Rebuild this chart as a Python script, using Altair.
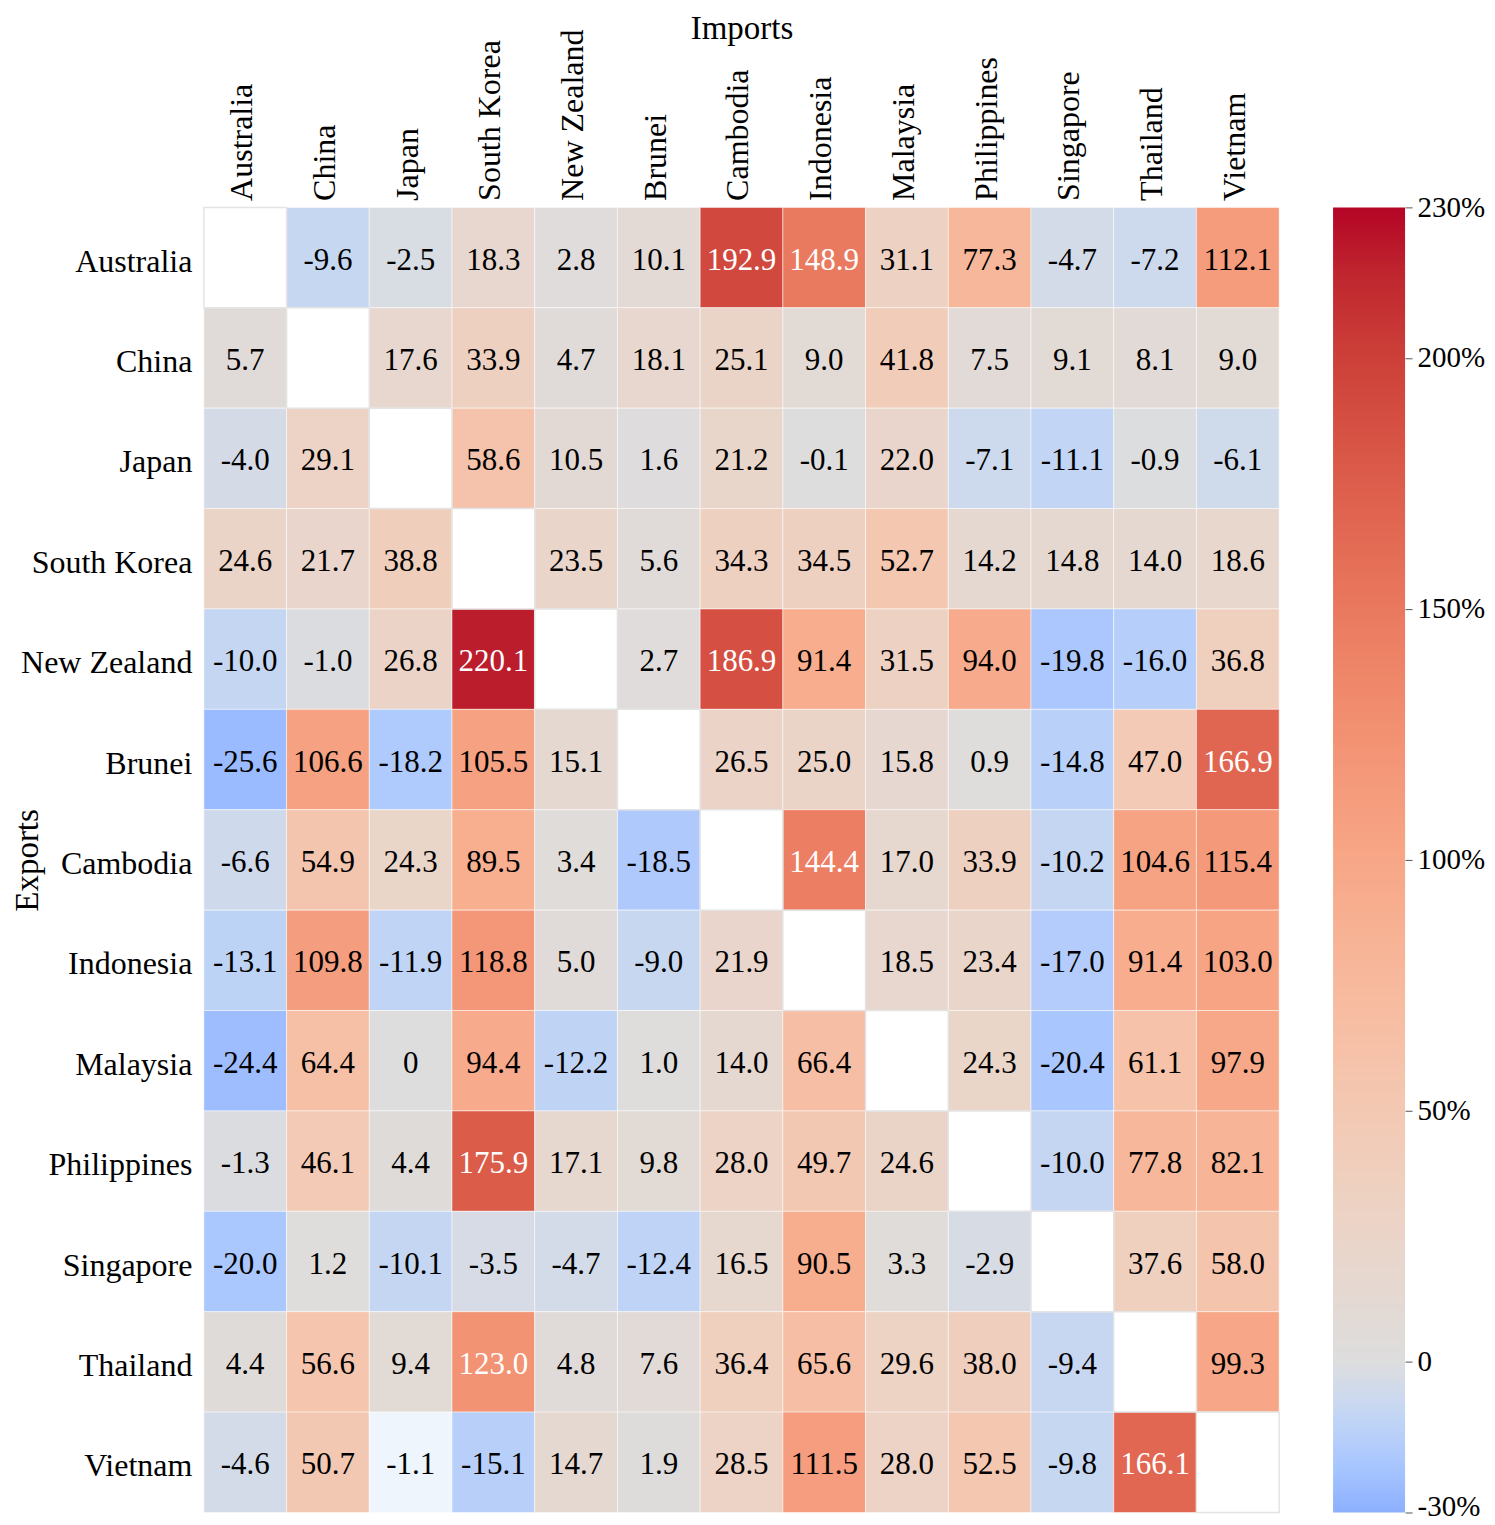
import altair as alt
import pandas as pd

countries = ["Australia", "China", "Japan", "South Korea", "New Zealand", "Brunei",
             "Cambodia", "Indonesia", "Malaysia", "Philippines", "Singapore",
             "Thailand", "Vietnam"]

# rows = exporting country, columns = importing country (same order as `countries`)
exp_australia   = [None, -9.6, -2.5, 18.3, 2.8, 10.1, 192.9, 148.9, 31.1, 77.3, -4.7, -7.2, 112.1]
exp_china       = [5.7, None, 17.6, 33.9, 4.7, 18.1, 25.1, 9.0, 41.8, 7.5, 9.1, 8.1, 9.0]
exp_japan       = [-4.0, 29.1, None, 58.6, 10.5, 1.6, 21.2, -0.1, 22.0, -7.1, -11.1, -0.9, -6.1]
exp_south_korea = [24.6, 21.7, 38.8, None, 23.5, 5.6, 34.3, 34.5, 52.7, 14.2, 14.8, 14.0, 18.6]
exp_new_zealand = [-10.0, -1.0, 26.8, 220.1, None, 2.7, 186.9, 91.4, 31.5, 94.0, -19.8, -16.0, 36.8]
exp_brunei      = [-25.6, 106.6, -18.2, 105.5, 15.1, None, 26.5, 25.0, 15.8, 0.9, -14.8, 47.0, 166.9]
exp_cambodia    = [-6.6, 54.9, 24.3, 89.5, 3.4, -18.5, None, 144.4, 17.0, 33.9, -10.2, 104.6, 115.4]
exp_indonesia   = [-13.1, 109.8, -11.9, 118.8, 5.0, -9.0, 21.9, None, 18.5, 23.4, -17.0, 91.4, 103.0]
exp_malaysia    = [-24.4, 64.4, 0, 94.4, -12.2, 1.0, 14.0, 66.4, None, 24.3, -20.4, 61.1, 97.9]
exp_philippines = [-1.3, 46.1, 4.4, 175.9, 17.1, 9.8, 28.0, 49.7, 24.6, None, -10.0, 77.8, 82.1]
exp_singapore   = [-20.0, 1.2, -10.1, -3.5, -4.7, -12.4, 16.5, 90.5, 3.3, -2.9, None, 37.6, 58.0]
exp_thailand    = [4.4, 56.6, 9.4, 123.0, 4.8, 7.6, 36.4, 65.6, 29.6, 38.0, -9.4, None, 99.3]
exp_vietnam     = [-4.6, 50.7, -1.1, -15.1, 14.7, 1.9, 28.5, 111.5, 28.0, 52.5, -9.8, 166.1, None]

rows = [exp_australia, exp_china, exp_japan, exp_south_korea, exp_new_zealand,
        exp_brunei, exp_cambodia, exp_indonesia, exp_malaysia, exp_philippines,
        exp_singapore, exp_thailand, exp_vietnam]

colorbar_ticks = [-30, 0, 50, 100, 150, 200, 230]

records = []
for i, exp in enumerate(countries):
    for j, imp in enumerate(countries):
        v = rows[i][j]
        if v is None:
            lab = ""
        elif isinstance(v, int):
            lab = str(v)
        else:
            lab = f"{v:.1f}"
        records.append({"Exports": exp, "Imports": imp, "value": v, "label": lab})
df = pd.DataFrame(records)

# coolwarm colour stops (t in [0.25, 1]) with a two-slope norm centred on 0
CMAP_T = [i / 32 for i in range(8, 33)]
CMAP_RGB = [
    (141, 176, 254), (152, 185, 255), (163, 194, 255), (174, 201, 253),
    (184, 208, 249), (194, 213, 244), (204, 217, 238), (213, 219, 230),
    (221, 221, 221), (229, 216, 209), (236, 211, 197), (241, 204, 184),
    (245, 196, 172), (247, 187, 159), (247, 177, 147), (247, 166, 134),
    (244, 154, 123), (241, 141, 111), (236, 127, 99), (229, 112, 88),
    (222, 96, 77), (213, 80, 66), (203, 62, 56), (192, 40, 47), (180, 4, 38),
]
NORM_VMIN, NORM_VMAX = -60, 230
scale_domain = [(t - 0.5) * 2 * (-NORM_VMIN) if t < 0.5 else (t - 0.5) * 2 * NORM_VMAX
                for t in CMAP_T]
scale_range = ["#%02x%02x%02x" % c for c in CMAP_RGB]
color_scale = alt.Scale(domain=scale_domain, range=scale_range,
                        interpolate="rgb", clamp=True)

FONT = "Liberation Serif"
PLOT_H = 1306

base = alt.Chart(df).encode(
    x=alt.X("Imports:N", sort=countries,
            axis=alt.Axis(orient="top", title="Imports", labelAngle=-90,
                          labelAlign="left", labelBaseline="middle",
                          labelPadding=7, labelOffset=-3, ticks=False,
                          tickSize=0, domain=False,
                          labelFontSize=32, titleFontSize=33,
                          titleFontWeight="normal", titlePadding=-16,
                          labelColor="black", titleColor="black")),
    y=alt.Y("Exports:N", sort=countries,
            axis=alt.Axis(title="Exports", labelPadding=12, labelOffset=4,
                          ticks=False, tickSize=0, domain=False,
                          labelFontSize=32, titleFontSize=33,
                          titleFontWeight="normal", titlePadding=-24,
                          labelColor="black", titleColor="black")),
)

cells = base.transform_filter("isValid(datum.value)").mark_rect(
    stroke="white", strokeWidth=1, strokeOpacity=0.5
).encode(
    color=alt.condition(
        "datum.Exports == 'Vietnam' && datum.Imports == 'Japan'",
        alt.value("#eef5fd"),
        alt.Color("value:Q", scale=color_scale, legend=None),
    )
)

diag = base.transform_filter("datum.Exports == datum.Imports").mark_rect(
    fill="white", stroke="#e4e4e4", strokeWidth=1.5
)

texts = base.transform_filter("isValid(datum.value)").mark_text(
    fontSize=31, font=FONT, baseline="middle", align="center", dy=3
).encode(
    text="label:N",
    color=alt.condition("datum.value > 120", alt.value("white"), alt.value("black")),
)

heat = alt.layer(cells, diag, texts).properties(width=1076, height=PLOT_H)

colorbar = alt.Chart(alt.sequence(-30, 230, 0.5, as_="v")).transform_calculate(
    v2="min(datum.v + 0.7, 230)"
).mark_rect(strokeWidth=0).encode(
    y=alt.Y("v:Q", scale=alt.Scale(domain=[-30, 230], nice=False, zero=False),
            axis=alt.Axis(orient="right", values=colorbar_ticks,
                          labelExpr="datum.value == 0 ? '0' : datum.value + '%'",
                          labelOffset={"condition": {"test": "datum.value == -30", "value": -6},
                                       "value": 0},
                          title=None, domain=False, grid=False, tickSize=7,
                          tickColor="#555555", labelFontSize=29, labelPadding=5,
                          labelColor="black")),
    y2="v2:Q",
    color=alt.Color("v:Q", scale=color_scale, legend=None),
).properties(width=72, height=PLOT_H)

chart = alt.hconcat(heat, colorbar, spacing=54, bounds="flush").properties(
    padding={"left": 3, "top": 3, "right": 2, "bottom": 0}
).configure(font=FONT).configure_view(stroke=None)

chart.save("out.html", embed_options={"renderer": "svg", "actions": False})
